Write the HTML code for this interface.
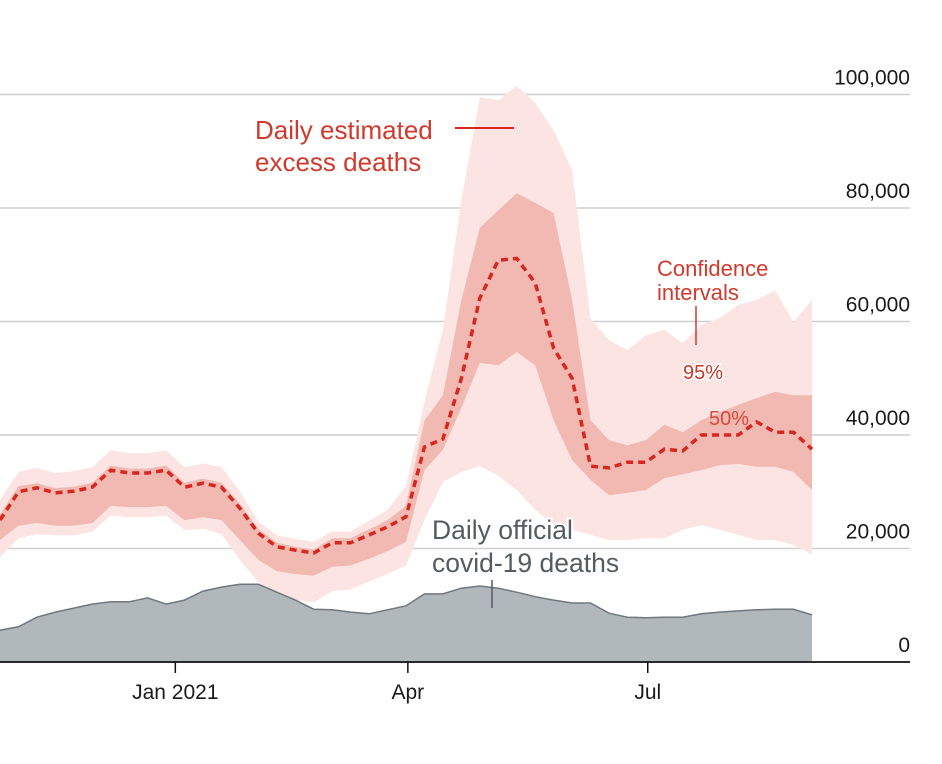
<!DOCTYPE html>
<html><head><meta charset="utf-8"><style>
html,body{margin:0;padding:0;background:#fff;}
svg{display:block;font-family:"Liberation Sans",sans-serif;}
</style></head><body>
<svg id="chart" width="942" height="764" viewBox="0 0 942 764" xmlns="http://www.w3.org/2000/svg">
<g id="grid"></g>
<g id="bands"></g>
<g id="official"></g>
<g id="central"></g>
<g id="axes"></g>
<g>
<text x="255" y="139" font-size="26" fill="#d03a2c">Daily estimated</text>
<text x="255" y="171" font-size="26" fill="#d03a2c">excess deaths</text>
<line x1="455" y1="128" x2="514" y2="128" stroke="#d7261e" stroke-width="2"/>
</g>
<g>
<text x="657" y="276" font-size="22" fill="#d03a2c">Confidence</text>
<text x="657" y="300" font-size="22" fill="#d03a2c">intervals</text>
<line x1="696" y1="306" x2="696" y2="345" stroke="#d03a2c" stroke-width="1.5"/>
<text x="683" y="379" font-size="20" fill="#c0392b" stroke="#fff" stroke-width="3" paint-order="stroke">95%</text>
<text x="709" y="425" font-size="20" fill="#d9493c">50%</text>
</g>
<g>
<text x="432" y="539" font-size="26.5" fill="#555b60" stroke="#fff" stroke-width="4" paint-order="stroke">Daily official</text>
<text x="432" y="572" font-size="26.5" fill="#555b60" stroke="#fff" stroke-width="4" paint-order="stroke">covid-19 deaths</text>
<line x1="492" y1="580" x2="492" y2="608" stroke="#555b60" stroke-width="1.5"/>
</g>
</svg>
<script>
const central = [25000,30000,30700,29800,30100,30800,33800,33300,33300,33800,30800,31500,30800,27100,22700,20300,19700,19200,21000,21000,22400,23800,25600,37900,39300,50000,64100,70800,71100,66800,55300,50000,34500,34200,35200,35200,37500,37200,40000,40000,40000,42300,40500,40500,37500];
const upper95 = [28500,33500,34200,33300,33600,34300,37300,36800,36800,37300,34300,35000,34300,30100,24700,22300,21700,21200,23000,23000,24900,26800,31000,46000,58500,81400,99500,99000,101500,98500,93700,86700,60600,56700,55000,57600,58500,56200,59400,60600,62900,63800,65500,59900,63800];
const upper50 = [26000,31000,31500,30600,30900,31600,34600,34100,34100,34600,31600,32300,31600,27900,23400,21000,20300,19800,21800,21800,23400,25000,27500,42600,47000,63800,76500,79600,82600,80900,79100,63800,42600,39100,38200,39100,41800,40500,42600,44000,45300,46500,47600,47000,47000];
const lower50 = [21500,24000,24500,24000,24000,24500,27500,27300,27300,27500,25000,25500,25000,21500,18000,16000,15500,15200,16800,17000,18200,19500,21200,33800,37400,44800,52700,52300,54600,52300,42600,35600,32100,29400,29800,30300,32400,33100,33800,34700,34900,34400,34400,33500,30300];
const lower95 = [18500,21800,22500,22300,22300,23000,25800,25500,25500,25800,23200,23500,22500,18000,14000,12000,11000,10500,12500,12800,14200,15500,17000,25000,31700,33500,34500,32800,30300,26800,24100,23300,22400,21500,21500,21800,21800,23300,24100,23300,22400,21500,21500,20600,18900];
const official = [5600,6200,7900,8800,9500,10200,10600,10600,11300,10200,10900,12500,13200,13700,13700,12300,10900,9300,9200,8800,8500,9200,9900,12000,12000,13000,13400,13000,12300,11500,10900,10400,10400,8600,7900,7800,7900,7900,8500,8800,9000,9200,9300,9300,8300];
const yTicks = [0,20000,40000,60000,80000,100000];
const yTickLabels = ["0","20,000","40,000","60,000","80,000","100,000"];
const xTickWeeks = [9.5,22.1,35.1];
const xTickLabels = ["Jan 2021","Apr","Jul"];

const NS="http://www.w3.org/2000/svg";
const step=812/(central.length-1);
const X=i=>i*step;
const Y=v=>662-v/20000*113.5;
function mk(tag,attrs,parent){const e=document.createElementNS(NS,tag);for(const k in attrs)e.setAttribute(k,attrs[k]);parent.appendChild(e);return e;}
function linePts(arr){return arr.map((v,i)=>X(i).toFixed(1)+","+Y(v).toFixed(1));}
function bandPath(up,lo){const a=linePts(up),b=linePts(lo).reverse();return "M"+a.join("L")+"L"+b.join("L")+"Z";}

const grid=document.getElementById('grid');
yTicks.forEach((t,i)=>{
  if(t>0){const l=mk('line',{x1:0,x2:910,y1:Y(t),y2:Y(t),stroke:'#cfcfcf','stroke-width':1.5},grid);
  
  }
  const tx=mk('text',{x:910,y:Y(t)-10,'text-anchor':'end','font-size':21,fill:'#1a1a1a'},grid);
  tx.textContent=yTickLabels[i];
  
  
});

const bands=document.getElementById('bands');
const p95=mk('path',{d:bandPath(upper95,lower95),fill:'#fbe4e2'},bands);


const p50=mk('path',{d:bandPath(upper50,lower50),fill:'#f2b9b3'},bands);



const off=document.getElementById('official');
const pts=linePts(official);
const area=mk('path',{d:"M0,662L"+pts.join("L")+"L"+X(official.length-1)+",662Z",fill:'#b1b8bc'},off);


const ol=mk('polyline',{points:pts.join(" "),fill:'none',stroke:'#6f787d','stroke-width':1.5},off);



const cen=document.getElementById('central');
const cl=mk('polyline',{points:linePts(central).join(" "),fill:'none',stroke:'#d7261e','stroke-width':3.5,'stroke-dasharray':'7,5'},cen);



const ax=document.getElementById('axes');
const base=mk('line',{x1:0,x2:910,y1:662,y2:662,stroke:'#111','stroke-width':1.8},ax);


xTickWeeks.forEach((w,i)=>{
  const x=X(w);
  const t=mk('line',{x1:x,x2:x,y1:662,y2:673,stroke:'#111','stroke-width':1.5},ax);
  
  
  const tx=mk('text',{x:x,y:699,'text-anchor':'middle','font-size':21,fill:'#1a1a1a'},ax);
  tx.textContent=xTickLabels[i];
  
  
});
</script>
</body></html>
